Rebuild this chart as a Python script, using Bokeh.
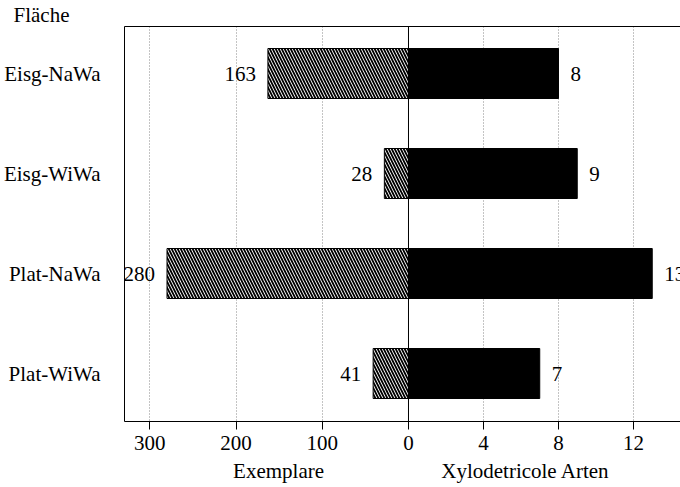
from bokeh.plotting import figure
from bokeh.models import Range1d, FixedTicker, LinearAxis, Span
from bokeh.core.properties import value
from bokeh.embed import file_html
from bokeh.resources import INLINE

# ---- data ----
flaechen = ["Eisg-NaWa", "Eisg-WiWa", "Plat-NaWa", "Plat-WiWa"]
exemplare = [163, 28, 280, 41]
arten = [8, 9, 13, 7]
exemplare_ticks = [300, 200, 100]
arten_ticks = [0, 4, 8, 12]
title_y = "Fläche"
label_left = "Exemplare"
label_right = "Xylodetricole Arten"

# conversion of "Exemplare" units into the common x axis (Arten units)
S = 0.046

FONT = "Liberation Serif"
FS = "21px"

pos = list(range(len(flaechen)))
left_x = [-v * S for v in exemplare]

p = figure(width=680, height=487, output_backend="svg", toolbar_location=None,
           x_range=Range1d(-15.147, 14.507), y_range=Range1d(3.48, -0.47),
           min_border_left=124, min_border_right=0, min_border_top=23,
           min_border_bottom=66)
p.outline_line_color = None
p.background_fill_color = "white"
p.border_fill_color = "white"

# y title via the plot title, shifted left of the frame
p.title.text = title_y
p.title.align = "left"
p.title.offset = -111
p.title.standoff = 0
p.title.text_font = FONT
p.title.text_font_size = FS
p.title.text_font_style = "normal"
p.title.text_color = "black"
p.title.vertical_align = "bottom"

# bars
p.hbar(y=pos, left=left_x, right=0, height=0.5, fill_color="white",
       line_color="black", line_width=1, hatch_pattern="\\", hatch_color="black",
       hatch_scale=6, hatch_weight=1.8)
p.hbar(y=pos, left=0, right=arten, height=0.5, fill_color="black",
       line_color="black", line_width=1)

# value labels
p.text(x=left_x, y=pos, text=[str(v) for v in exemplare], x_offset=-12,
       text_align="right", text_baseline="middle", text_font=value(FONT),
       text_font_size=FS, text_color="black")
p.text(x=arten, y=pos, text=[str(v) for v in arten], x_offset=12,
       text_align="left", text_baseline="middle", text_font=value(FONT),
       text_font_size=FS, text_color="black")

# zero line
p.add_layout(Span(location=0, dimension="height", line_color="black", line_width=1))

# x axis
xt = [-t * S for t in exemplare_ticks] + list(arten_ticks)
overrides = {}
for t in exemplare_ticks:
    overrides[-t * S] = str(t)
for t in arten_ticks:
    overrides[t] = str(t)
xa = p.xaxis[0]
xa.ticker = FixedTicker(ticks=xt)
xa.major_label_overrides = overrides
xa.minor_tick_line_color = None
xa.major_tick_out = 8
xa.major_tick_in = 0
xa.major_tick_line_color = "black"
xa.axis_line_color = "black"
xa.major_label_text_font = FONT
xa.major_label_text_font_size = FS
xa.major_label_text_color = "black"
xa.major_label_standoff = 6

# second bottom axis carrying the two axis titles
lab_pos = [-6.93, 6.24]
xa2 = LinearAxis(ticker=FixedTicker(ticks=lab_pos),
                 major_label_overrides={lab_pos[0]: label_left, lab_pos[1]: label_right},
                 axis_line_color=None, major_tick_line_color=None,
                 minor_tick_line_color=None, major_label_standoff=0,
                 major_label_text_font=FONT, major_label_text_font_size=FS,
                 major_label_text_color="black")
p.add_layout(xa2, "below")

# grid (dotted, not at 0)
p.xgrid.ticker = FixedTicker(ticks=[x for x in xt if x != 0])
p.xgrid.grid_line_color = "#888888"
p.xgrid.grid_line_dash = "1 2"
p.xgrid.grid_line_width = 1
p.ygrid.grid_line_color = None

# y axis
ya = p.yaxis[0]
ya.ticker = FixedTicker(ticks=pos)
ya.major_label_overrides = {i: n for i, n in zip(pos, flaechen)}
ya.major_tick_line_color = None
ya.minor_tick_line_color = None
ya.axis_line_color = "black"
ya.major_label_text_font = FONT
ya.major_label_text_font_size = FS
ya.major_label_text_color = "black"
ya.major_label_standoff = 18

# top frame line
top = LinearAxis(ticker=FixedTicker(ticks=[]), axis_line_color="black",
                 major_tick_line_color=None, minor_tick_line_color=None,
                 major_tick_out=0, major_label_standoff=0)
p.add_layout(top, "above")

open("out.html", "w").write(file_html(p, INLINE))
